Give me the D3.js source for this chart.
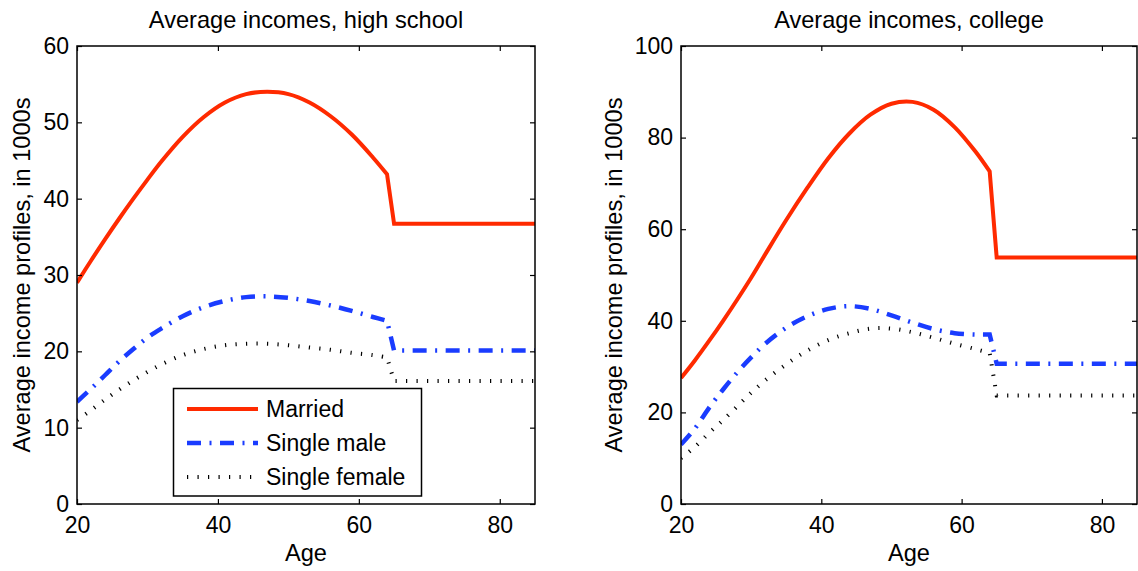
<!DOCTYPE html>
<html>
<head>
<meta charset="utf-8">
<script src="https://cdn.jsdelivr.net/npm/d3@7"></script>
<style>
  html, body { margin: 0; padding: 0; background: #fff; }
  svg { display: block; }
  text { font-family: "Liberation Sans", Arial, Helvetica, sans-serif; fill: #000; }
</style>
</head>
<body>
<svg id="chart" width="1138" height="571"></svg>
<script>
// ---------------- data ----------------
const ages = [20, 22, 24, 26, 28, 30, 32, 35, 38, 41, 44, 47, 50, 53, 56, 59, 62, 64, 65, 85];

const hsMarried = [29.0, 31.9, 34.7, 37.4, 40.0, 42.5, 44.9, 48.1, 50.7, 52.6, 53.7, 54.0, 53.7, 52.6, 50.8, 48.4, 45.4, 43.2, 36.7, 36.7];
const hsMale    = [13.4, 15.1, 16.9, 18.7, 20.3, 21.8, 23.0, 24.6, 25.8, 26.6, 27.1, 27.2, 27.0, 26.6, 26.0, 25.3, 24.5, 24.0, 20.1, 20.1];
const hsFemale  = [11.0, 12.3, 13.7, 15.0, 16.2, 17.3, 18.3, 19.5, 20.3, 20.8, 21.0, 21.0, 20.8, 20.5, 20.2, 19.8, 19.5, 19.2, 16.1, 16.1];

const colMarried = [27.5, 31.4, 35.6, 40.0, 44.6, 49.4, 54.5, 62.0, 69.0, 75.5, 80.9, 85.0, 87.4, 87.8, 86.1, 82.3, 76.9, 72.6, 53.8, 53.8];
const colMale    = [13.0, 16.5, 21.0, 25.0, 28.7, 32.0, 35.0, 38.5, 41.0, 42.6, 43.2, 42.6, 41.2, 39.6, 38.2, 37.3, 37.0, 37.0, 30.6, 30.6];
const colFemale  = [10.0, 12.5, 15.5, 18.3, 21.3, 24.3, 27.0, 30.5, 33.5, 35.8, 37.3, 38.3, 38.3, 37.5, 36.3, 35.0, 33.8, 33.0, 23.7, 23.7];

const seriesNames = ["Married", "Single male", "Single female"];
const titles = ["Average incomes, high school", "Average incomes, college"];
const xTicks = [20, 40, 60, 80];
const hsYTicks = [0, 10, 20, 30, 40, 50, 60];
const colYTicks = [0, 20, 40, 60, 80, 100];
const xLabel = "Age";
const yLabel = "Average income profiles, in 1000s";

// ---------------- styles ----------------
const styles = [
  { color: "#ff2a00", width: 4, dash: null },
  { color: "#1a3cff", width: 4.5, dash: "14,8.5,2,8.5" },
  { color: "#000000", width: 4, dash: "1.2,9.3" }
];

const panels = [
  { title: titles[0], data: [hsMarried, hsMale, hsFemale], yMax: 60, yTicks: hsYTicks, x0: 77, x1: 535, yLabOff: 47, legend: true },
  { title: titles[1], data: [colMarried, colMale, colFemale], yMax: 100, yTicks: colYTicks, x0: 681, x1: 1137, yLabOff: 59, legend: false }
];
const yTop = 46, yBottom = 504;
const FS = 23, FS2 = 23.6;

const svg = d3.select("#chart");
const defs = svg.append("defs");

panels.forEach((p, pi) => {
  const x = d3.scaleLinear().domain([20, 85]).range([p.x0, p.x1]);
  const y = d3.scaleLinear().domain([0, p.yMax]).range([yBottom, yTop]);
  const g = svg.append("g");

  defs.append("clipPath").attr("id", "clip" + pi)
    .append("rect").attr("x", p.x0).attr("y", yTop).attr("width", p.x1 - p.x0).attr("height", yBottom - yTop);

  // lines
  const smooth = d3.line().x(d => x(d[0])).y(d => y(d[1])).curve(d3.curveCatmullRom.alpha(0.5));
  const lin = d3.line().x(d => x(d[0])).y(d => y(d[1]));
  const iBreak = ages.indexOf(64);
  const lg = g.append("g").attr("clip-path", `url(#clip${pi})`);
  p.data.forEach((vals, si) => {
    const pts = ages.map((a, i) => [a, vals[i]]);
    const d = smooth(pts.slice(0, iBreak + 1)) + lin(pts.slice(iBreak)).replace(/^M[^L]+/, "");
    const st = styles[si];
    lg.append("path").attr("d", d)
      .attr("fill", "none").attr("stroke", st.color).attr("stroke-width", st.width)
      .attr("stroke-linejoin", "miter").attr("stroke-linecap", "butt")
      .attr("stroke-dasharray", st.dash);
  });

  // axes (inward ticks on all four sides)
  const tick = 5;
  const axB = d3.axisBottom(x).tickValues(xTicks).tickSizeInner(-tick).tickSizeOuter(0).tickPadding(12);
  const axT = d3.axisTop(x).tickValues(xTicks).tickSizeInner(-tick).tickSizeOuter(0).tickFormat("");
  const axL = d3.axisLeft(y).tickValues(p.yTicks).tickSizeInner(-tick).tickSizeOuter(0).tickPadding(8);
  const axR = d3.axisRight(y).tickValues(p.yTicks).tickSizeInner(-tick).tickSizeOuter(0).tickFormat("");

  const gB = g.append("g").attr("transform", `translate(0,${yBottom})`).call(axB);
  const gT = g.append("g").attr("transform", `translate(0,${yTop})`).call(axT);
  const gL = g.append("g").attr("transform", `translate(${p.x0},0)`).call(axL);
  const gR = g.append("g").attr("transform", `translate(${p.x1},0)`).call(axR);
  [gB, gT, gL, gR].forEach(a => {
    a.select(".domain").remove();
    a.selectAll(".tick line").attr("stroke", "#000").attr("stroke-width", 1.2);
    a.selectAll(".tick text").attr("font-size", FS).attr("font-family", '"Liberation Sans", Arial, sans-serif').attr("fill", "#000");
  });
  gB.selectAll(".tick text").attr("dy", "0.72em");

  g.append("rect").attr("x", p.x0).attr("y", yTop).attr("width", p.x1 - p.x0).attr("height", yBottom - yTop)
    .attr("fill", "none").attr("stroke", "#000").attr("stroke-width", 1.5);

  // title & labels
  g.append("text").attr("x", (p.x0 + p.x1) / 2).attr("y", 28).attr("text-anchor", "middle")
    .attr("font-size", FS2).text(p.title);
  g.append("text").attr("x", (p.x0 + p.x1) / 2).attr("y", 561).attr("text-anchor", "middle")
    .attr("font-size", FS2).text(xLabel);
  g.append("text").attr("transform", `translate(${p.x0 - p.yLabOff},${(yTop + yBottom) / 2}) rotate(-90)`)
    .attr("text-anchor", "middle").attr("font-size", FS2).text(yLabel);

  // legend
  if (p.legend) {
    const lx = 173.5, ly = 388.5, lw = 248, lh = 107.5;
    const leg = g.append("g");
    leg.append("rect").attr("x", lx).attr("y", ly).attr("width", lw).attr("height", lh)
      .attr("fill", "#fff").attr("stroke", "#000").attr("stroke-width", 1.5);
    seriesNames.forEach((name, si) => {
      const cy = 409 + si * 34;
      const st = styles[si];
      leg.append("line").attr("x1", 187).attr("x2", 258).attr("y1", cy).attr("y2", cy)
        .attr("stroke", st.color).attr("stroke-width", st.width).attr("stroke-dasharray", st.dash);
      leg.append("text").attr("x", 266).attr("y", cy).attr("dy", "0.35em")
        .attr("font-size", FS).text(name);
    });
  }
});
</script>
</body>
</html>
